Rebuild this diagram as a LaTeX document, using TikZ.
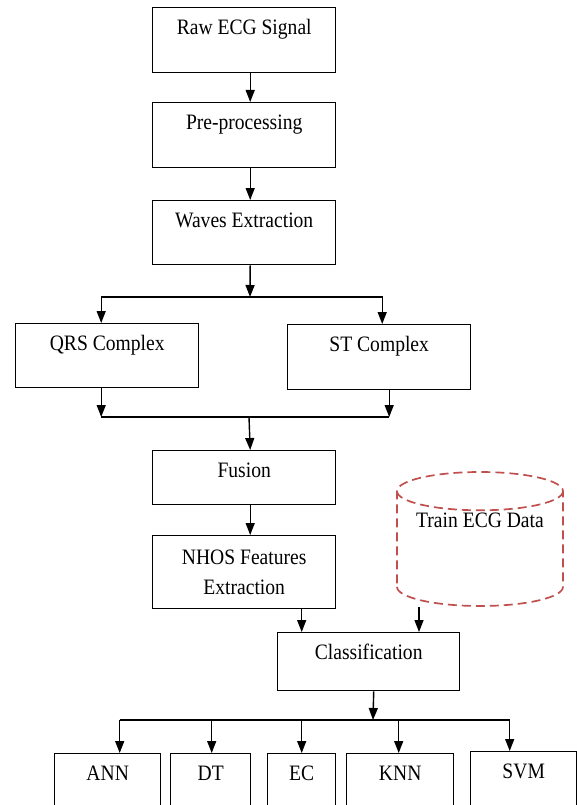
\documentclass[tikz,border=0pt]{standalone}
\usepackage{fontspec}
\setmainfont{Liberation Serif}[FakeStretch=0.89]
\usetikzlibrary{arrows.meta, shapes.geometric}
\definecolor{storered}{HTML}{C0504D}

\begin{document}
\begin{tikzpicture}[
  x=1pt, y=1pt,
  >={Triangle[length=12pt, width=9pt]},
  every node/.style={font=\fontsize{22}{30}\selectfont},
  blk/.style={draw, line width=1.4pt, inner sep=0pt, anchor=north west, align=center},
  box/.style={blk, text height=27pt, text depth=#1},
  box/.default=38pt,
  store/.style={cylinder, shape border rotate=90, draw=storered, line width=1.7pt,
                dash pattern=on 9pt off 5pt, aspect=0.3,
                minimum width=166pt, minimum height=134pt, inner sep=0pt,
                text height=14pt, text depth=58pt},
  line/.style={line width=1.4pt},
  arr/.style={->, line width=1.4pt}
]
  \clip (0,0) rectangle (577,-805);
  \node[box, minimum width=183pt] (raw) at (152,-7) {Raw ECG Signal};
  \node[box, minimum width=183pt] (pre) at (152,-102) {Pre-processing};
  \node[box=37pt, minimum width=183pt] (waves) at (152,-200) {Waves Extraction};
  \node[box=37pt, minimum width=183pt] (qrs) at (15,-323) {QRS Complex};
  \node[box, minimum width=183pt] (st) at (287,-324) {ST Complex};
  \node[box=27pt, minimum width=183pt] (fusion) at (152,-450) {Fusion};
  \node[blk, minimum width=183pt, minimum height=73pt] (nhos) at (152,-535) {NHOS Features\\Extraction};
  \node[store] (train) at (480,-549) {Train ECG Data};
  \node[box=31pt, minimum width=182pt] (class) at (277,-632) {Classification};
  \node[box=80pt, minimum width=106pt] (ann) at (54,-753) {ANN};
  \node[box=80pt, minimum width=80pt] (dt) at (170,-753) {DT};
  \node[box=80pt, minimum width=68pt] (ec) at (267,-753) {EC};
  \node[box=80pt, minimum width=107pt] (knn) at (346,-753) {KNN};
  \node[box=80pt, minimum width=106pt] (svm) at (470,-751) {SVM};

  \coordinate (split) at (250,-297);
  \coordinate (merge) at (249,-417);
  \coordinate (fan) at (373,-720);

  \draw[arr] ([xshift=6pt]raw.south) -- ([xshift=6pt]pre.north);
  \draw[arr] ([xshift=6pt]pre.south) -- ([xshift=6pt]waves.north);
  \draw[arr] ([xshift=6pt]waves.south) -- (split);
  \draw[arr] (split) -| ([xshift=-6pt]qrs.north);
  \draw[arr] (split) -| ([xshift=3pt]st.north);
  \draw[arr] ([xshift=-6pt]qrs.south) -- ([xshift=-6pt]qrs.south |- merge);
  \draw[arr] ([xshift=10pt]st.south) -- ([xshift=10pt]st.south |- merge);
  \draw[line] ([xshift=-6pt]qrs.south |- merge) -- ([xshift=10pt]st.south |- merge);
  \draw[arr] (merge) -- ([xshift=6pt]fusion.north);
  \draw[arr] ([xshift=6pt]fusion.south) -- ([xshift=6pt]nhos.north);
  \draw[arr] ([xshift=57.5pt]nhos.south) -- ([xshift=57.5pt]nhos.south |- class.north);
  \draw[arr] ([xshift=-61pt]train.south) -- ([xshift=-61pt]train.south |- class.north);
  \draw[arr] ([xshift=5pt]class.south) -- (fan);
  \draw[line] ([xshift=12pt]ann.north |- fan) -- ([xshift=-14pt]svm.north |- fan);
  \foreach \n/\dx in {ann/12, dt/1, ec/0, knn/-1.5, svm/-14}
    \draw[arr] ([xshift=\dx pt]\n.north |- fan) -- ([xshift=\dx pt]\n.north);
\end{tikzpicture}
\end{document}
